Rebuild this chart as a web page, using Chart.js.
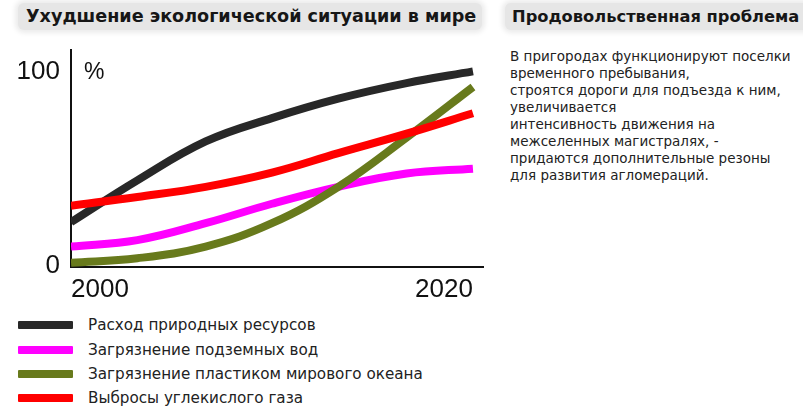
<!DOCTYPE html>
<html lang="ru">
<head>
<meta charset="utf-8">
<title>Ухудшение экологической ситуации в мире</title>
<script src="https://cdn.jsdelivr.net/npm/chart.js@4/dist/chart.umd.min.js"></script>
<style>
  html, body { margin: 0; padding: 0; background: #fff; }
  body { width: 803px; height: 417px; position: relative; overflow: hidden; font-family: "DejaVu Sans", sans-serif; color: #222; }
  .head {
    position: absolute; top: 3px; height: 27px;
    background: #e6e6e6; border-radius: 6px;
    box-shadow: 0 0 5px 3px #ececec;
    font-weight: bold; line-height: 27px; color: #161616;
    white-space: nowrap; overflow: hidden;
  }
  #head1 { left: 18px; width: 464px; padding-left: 8px; box-sizing: border-box; font-size: 17.6px; }
  #head2 { left: 505px; width: 310px; padding-left: 7px; box-sizing: border-box; font-size: 16.3px; }
  #note { position: absolute; left: 510px; top: 48px; font-size: 13.5px; line-height: 17px; color: #222; }
  #chartBox { position: absolute; left: 0; top: 0; width: 490px; height: 310px; }
  #pct { position: absolute; left: 84px; top: 58px; font: 23px "Liberation Sans", Arial, sans-serif; color: #111; }
  #legend { position: absolute; left: 18px; top: 313px; font-size: 15.2px; }
  #legend div { height: 24.4px; display: flex; align-items: center; }
  #legend span.sw { display: inline-block; width: 55px; height: 8px; margin-right: 15px; border-radius: 1px; }
</style>
</head>
<body>
<div class="head" id="head1">Ухудшение экологической ситуации в мире</div>
<div class="head" id="head2">Продовольственная проблема</div>
<div id="note">
В пригородах функционируют поселки<br>
временного пребывания,<br>
строятся дороги для подъезда к ним,<br>
увеличивается<br>
интенсивность движения на<br>
межселенных магистралях, -<br>
придаются дополнительные резоны<br>
для развития агломераций.
</div>
<div id="chartBox"><canvas id="trend" width="490" height="310"></canvas></div>
<div id="pct">%</div>
<div id="legend"></div>
<script>
// годы и значения (%) по каждой кривой
const years = [2000, 2003.3, 2006.7, 2010, 2013.3, 2016.7, 2020]
const yearTicks = [2000, 2020]
const percentTicks = [0, 100]

const resources = [22.5, 44, 64, 76, 86, 94, 100]
const groundWater = [10, 13.3, 22, 32, 40.7, 47.5, 50]
const oceanPlastic = [1.7, 4, 10, 22, 40.7, 66, 92]
const carbonGas = [31, 35.5, 40.7, 48, 58, 68, 78.5]

const seriesNames = [
  'Расход природных ресурсов',
  'Загрязнение подземных вод',
  'Загрязнение пластиком мирового океана',
  'Выбросы углекислого газа'
]
const seriesValues = [resources, groundWater, oceanPlastic, carbonGas]
const seriesColors = ['#282828', '#ff00ff', '#687a1c', '#ff0000']
// красная линия поверх всех, чёрная снизу
const drawOrder = [3, 2, 1, 0]

const datasets = seriesValues.map((vals, i) => ({
  label: seriesNames[i],
  data: vals.map((v, j) => ({ x: years[j], y: v })),
  borderColor: seriesColors[i],
  borderWidth: 8,
  borderCapStyle: 'butt',
  pointRadius: 0,
  tension: 0.4,
  fill: false,
  clip: 0,
  order: drawOrder[i]
}))

const tickFont = { family: '"Liberation Sans", Arial, sans-serif', size: 26 }

new Chart(document.getElementById('trend'), {
  type: 'line',
  data: { datasets },
  options: {
    responsive: false,
    animation: false,
    events: [],
    layout: { padding: { top: 50, right: 7, left: 0, bottom: 0 } },
    plugins: { legend: { display: false }, tooltip: { enabled: false } },
    scales: {
      x: {
        type: 'linear',
        min: 2000,
        max: 2020.5,
        afterBuildTicks (scale) { scale.ticks = yearTicks.map(v => ({ value: v })) },
        afterFit (scale) { scale.height = 43 },
        grid: { display: false, drawTicks: false },
        border: { color: '#111', width: 2 },
        ticks: { align: 'inner', padding: 7, color: '#111', font: tickFont, callback: v => String(v) }
      },
      y: {
        min: -0.5,
        max: 111,
        afterBuildTicks (scale) { scale.ticks = percentTicks.map(v => ({ value: v })) },
        afterFit (scale) { scale.width = 71 },
        grid: { display: false, drawTicks: false },
        border: { color: '#111', width: 2 },
        ticks: { padding: 11, color: '#111', font: tickFont, callback: v => String(v) }
      }
    }
  }
})

// подписи к линиям
const legend = document.getElementById('legend')
seriesNames.forEach((name, i) => {
  const row = document.createElement('div')
  row.innerHTML = `<span class="sw" style="background:${seriesColors[i]}"></span>${name}`
  legend.appendChild(row)
})
</script>
</body>
</html>
